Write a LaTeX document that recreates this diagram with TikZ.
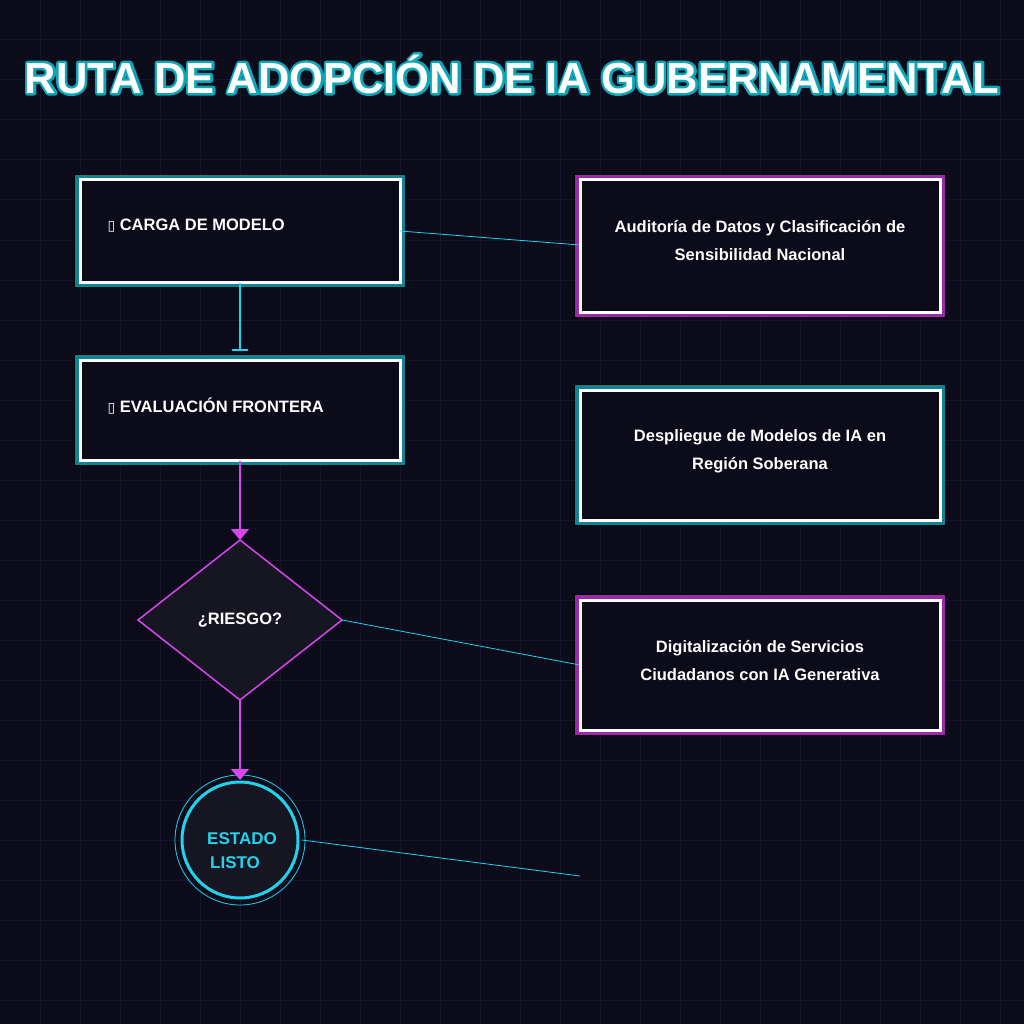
\documentclass[tikz,border=0pt]{standalone}
\usepackage{fontspec}
\setmainfont{Liberation Sans}
\newfontfamily\dvs{DejaVu Sans}
\usetikzlibrary{arrows.meta}
\definecolor{bg}{HTML}{0B0B1A}
\definecolor{gridc}{HTML}{15152B}
\definecolor{cy}{HTML}{22D3EE}
\definecolor{teal}{HTML}{0E8494}
\definecolor{pur}{HTML}{9A2AAA}
\definecolor{mag}{HTML}{D946EF}
\definecolor{fillc}{HTML}{161622}
\tikzset{
 txt/.style={text=white,font=\bfseries\fontsize{16.5}{28}\selectfont,align=center},
 link/.style={draw=cy,line width=0.8pt},
 flow/.style={draw=mag,line width=2pt,-{Triangle[width=18pt,length=11pt]}},
}
\newcommand\glowbox[6]{% x1 y1 x2 y2 colour name
 \fill[black] (#1-6,-#2+6) rectangle (#3+6,-#4-6);
 \draw[#5,line width=7pt] (#1-1.5,-#2+1.5) rectangle (#3+1.5,-#4-1.5);
 \draw[white,line width=3pt,fill=bg] (#1,-#2) rectangle (#3,-#4);
 \coordinate (#6) at ({(#1+#3)/2},{-(#2+#4)/2});
}
\begin{document}
\begin{tikzpicture}[x=1pt,y=1pt]
\fill[bg] (0,0) rectangle (1024,-1024);
\useasboundingbox (0,0) rectangle (1024,-1024);
\foreach \i in {40,80,...,1000}{\draw[gridc,line width=1pt] (\i,0)--(\i,-1024); \draw[gridc,line width=1pt] (0,-\i)--(1024,-\i);}
% title
\node (title) [text=white,font=\bfseries\fontsize{43.5}{48}\selectfont] at (512,-74) {\special{pdf:literal direct 0.05 0.65 0.72 RG 5 w 1 j 2 Tr}RUTA DE ADOPCIÓN DE IA GUBERNAMENTAL\special{pdf:literal direct 0 Tr}};
\node [text=white,font=\bfseries\fontsize{43.5}{48}\selectfont] at (512,-74) {RUTA DE ADOPCIÓN DE IA GUBERNAMENTAL};
% left boxes
\glowbox{80}{180}{400}{282}{teal}{b1}
\glowbox{80}{360}{400}{460}{teal}{b2}
\node[txt,anchor=west] (t1) at (104,-226) {{\dvs\mdseries\fontsize{14}{14}\selectfont ▯} CARGA DE MODELO};
\node[txt,anchor=west] (t2) at (104,-406) {{\dvs\mdseries\fontsize{14}{14}\selectfont ▯} EVALUACIÓN FRONTERA};
% right boxes
\glowbox{580}{180}{940}{312}{pur}{r1}
\glowbox{580}{390}{940}{520}{teal}{r2}
\glowbox{580}{600}{940}{730}{pur}{r3}
\node[txt] at (760,-241) {Auditoría de Datos y Clasificación de\\Sensibilidad Nacional};
\node[txt] at (760,-451) {Despliegue de Modelos de IA en\\Región Soberana};
\node[txt] at (760,-661) {Digitalización de Servicios\\Ciudadanos con IA Generativa};
% diamond
\draw[mag,line width=1.5pt,fill=fillc] (240,-540)--(342,-620)--(240,-700)--(138,-620)--cycle;
\coordinate (dT) at (240,-540); \coordinate (dB) at (240,-700); \coordinate (dR) at (342,-620);
\node[txt] (d) at (240,-620) {¿RIESGO?};
% circle
\draw[cy,line width=0.8pt] (240,-840) circle (65);
\draw[cy,line width=3pt,fill=fillc] (240,-840) circle (58);
\node[text=cy,font=\bfseries\fontsize{17}{24}\selectfont,align=left] (c) at (242,-851) {ESTADO\\\hspace*{3pt}LISTO};
\coordinate (cT) at (240,-780); \coordinate (cR) at (302,-840); \coordinate (e4) at (580,-876);
% connectors
\draw[cy,line width=2.5pt,-{Bar[width=16pt]}] (240,-283)--(240,-351);
\draw[flow] (240,-461)--(dT);
\draw[flow] (dB)--(cT);
\draw[link] (400,-231)--(580,-245);
\draw[link] (dR)--(580,-665);
\draw[link] (cR)--(e4);
\end{tikzpicture}
\end{document}
